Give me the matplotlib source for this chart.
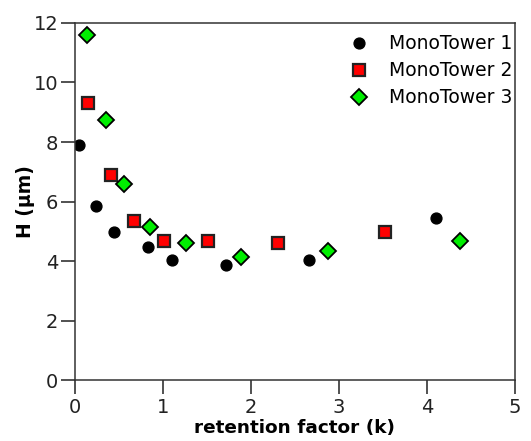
import matplotlib
matplotlib.use("Agg")
import matplotlib.pyplot as plt

mt1_x = [0.045, 0.24, 0.45, 0.83, 1.10, 1.72, 2.66, 4.10]
mt1_y = [7.91, 5.85, 4.96, 4.47, 4.05, 3.87, 4.03, 5.44]

mt2_x = [0.15, 0.41, 0.67, 1.01, 1.51, 2.31, 3.52]
mt2_y = [9.32, 6.90, 5.36, 4.67, 4.67, 4.61, 4.96]

mt3_x = [0.14, 0.35, 0.56, 0.85, 1.26, 1.89, 2.88, 4.37]
mt3_y = [11.60, 8.75, 6.58, 5.13, 4.60, 4.15, 4.35, 4.69]

labels = ["MonoTower 1", "MonoTower 2", "MonoTower 3"]
xticks = [0, 1, 2, 3, 4, 5]
yticks = [0, 2, 4, 6, 8, 10, 12]

plt.rcParams['font.family'] = ['DejaVu Sans']

fig = plt.figure(figsize=(5.31, 4.41), dpi=100)
ax = fig.add_axes([0.141, 0.138, 0.829, 0.810])

ax.plot(mt1_x, mt1_y, 'o', color='black', markersize=7.8, linestyle='none', label=labels[0])
ax.plot(mt2_x, mt2_y, 's', markerfacecolor='#ff0000', markeredgecolor='#222222',
        markeredgewidth=1.6, markersize=8.2, linestyle='none', label=labels[1])
ax.plot(mt3_x, mt3_y, 'D', markerfacecolor='#00ee00', markeredgecolor='black',
        markeredgewidth=1.3, markersize=8.2, linestyle='none', label=labels[2])

ax.set_xlim(0, 5)
ax.set_ylim(0, 12)
ax.set_xticks(xticks)
ax.set_yticks(yticks)
ax.tick_params(axis='both', direction='out', length=10, width=1.1, labelsize=14, colors='#222222')
ax.tick_params(axis='x', pad=3)
ax.tick_params(axis='y', pad=2)
for s in ax.spines.values():
    s.set_linewidth(1.1)
    s.set_color('#333333')

ax.set_xlabel('retention factor (k)', fontsize=13.3, fontweight='bold', va='top')
ax.xaxis.set_label_coords(0.5, -0.11)
ax.set_ylabel('H (µm)', fontsize=13.5, fontweight='bold')
ax.yaxis.set_label_coords(-0.09, 0.5)

leg = ax.legend(loc='upper right', bbox_to_anchor=(0.995, 0.968), frameon=False,
                fontsize=13.5, handletextpad=1.05, labelspacing=0.42,
                borderaxespad=0.0, borderpad=0.0, handlelength=1.2)

fig.savefig('out.png', dpi=100)
